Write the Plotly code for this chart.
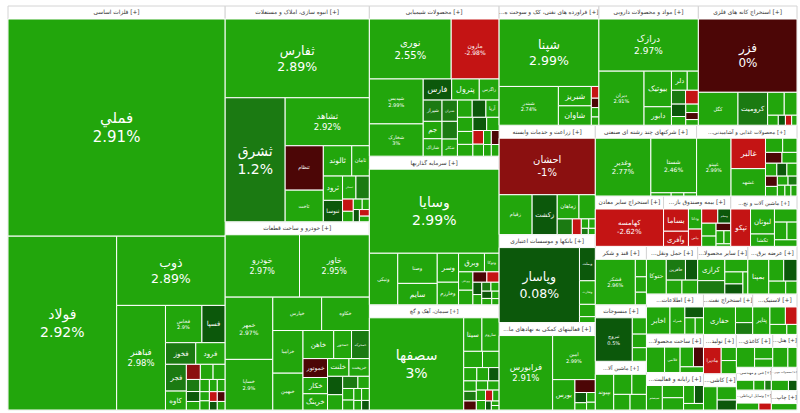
import plotly.graph_objects as go

# ---------------- sectors (header text shown on top of each group) ----------------
sector_headers = [
    "فلزات اساسی [+]", "انبوه سازی، املاک و مستغلات [+]", "خودرو و ساخت قطعات [+]",
    "محصولات شیمیایی [+]", "سرمایه گذاریها [+]", "سیمان، آهک و گچ [+]",
    "...فراورده های نفتی، کک و سوخت ه [+]", "زراعت و خدمات وابسته [+]",
    "بانکها و موسسات اعتباری [+]", "...فعالیتهای کمکی به نهادهای ما [+]",
    "مواد و محصولات دارویی [+]", "استخراج کانه های فلزی [+]", "شرکتهای چند رشته ای صنعتی [+]",
    "...محصولات غذایی و آشامیدنی [+]", "استخراج سایر معادن [+]", "...بیمه وصندوق باز [+]",
    "...ماشین آلات و تج [+]", "قند و شکر [+]", "منسوجات [+]", "...ماشین آلا [+]",
    "...حمل ونقل [+]", "...سایر محصولا [+]", "...ساخت محصولا [+]", "...عرضه برق [+]",
    "...رایانه و فعالیت [+]", "...اطلاعات [+]", "...استخراج نفت [+]", "...لاستیک [+]",
    "...تولید [+]", "...کاشی [+]", "...کاغذی [+]", "...هتل [+]", "...چاپ [+]",
    "...محصولات چوبی [+]", "...وسایل ارتباطی [+]", "...فنی و مهندسی [+]",
]

# ---------------- stocks per sector: names, values, % change ----------------
s01_names = ["فملي", "فولاد", "ذوب", "فباهنر", "فخاس", "فسپا", "فخوز", "فرود", "فجر", "کاوه", "فلوله", "هرمز",
             "فنورد", "فسرب", "فایرا", "فروی", "فزرین", "فنوال", "فسازان", "فجهان", "فاسمین", "فپنتا", "فافزا", "فغدیر", "فتوسا"]
s01_values = [4895, 1960, 780, 530, 141, 90, 68, 66, 58, 41, 22, 20, 19, 17, 14, 12, 12, 10, 10, 9, 9, 8, 8, 7, 7]
s01_change = [2.91, 2.92, 2.89, 2.98, 2.9, 0.3, 1.1, 2.7, 1.0, 2.8, -1.2, 2.6, 2.9, 1.2, 0.4, 2.5, 2.7, 2.4, 2.9, 2.6, 2.8, -2.1, -0.3, 0.2, 2.6]

s02_names = ["ثفارس", "ثشرق", "ثشاهد", "ثنظام", "ثاخت", "ثالوند", "ثامان", "ثرود", "ثنوسا", "ثمسکن", "ثباغ", "ثاصفا",
             "ثعمرا", "ثپردیس", "ثتران", "ثغرب", "ثجنوب", "ثزاگرس"]
s02_values = [1214, 795, 432, 181, 129, 92, 57, 50, 44, 33, 33, 14, 12, 10, 7, 8, 8, 6]
s02_change = [2.89, 1.2, 2.92, -0.2, 2.8, 2.7, 2.6, 2.9, 0.3, 2.5, 1.3, -2.4, 2.8, 2.6, -2.2, 2.9, 0.4, 2.7]

s03_names = ["خودرو", "خاور", "خمهر", "خساپا", "خپارس", "خکاوه", "خزامیا", "خبهمن", "خاهن", "خمحور", "خمحرکه", "خموتور",
             "خکار", "خرینگ", "خریخت", "خلنت", "خفنر", "خشرق", "خگستر", "ختوقا", "خودکفا", "خاذین", "خپویش", "خچرخش", "خعمرا", "خکمک"]
s03_values = [500, 470, 320, 260, 176, 172, 139, 120, 93, 54, 54, 50, 43, 43, 39, 41, 30, 25, 20, 15, 14, 12, 10, 10, 8, 8]
s03_change = [2.97, 2.95, 2.97, 2.9, 2.8, 2.9, 2.7, 2.8, 2.6, 2.5, 1.0, -0.4, 2.7, 2.6, 2.8, 2.6, 0.2, 2.5, 1.0, 2.6, 2.5, 2.7, 2.9, 2.4, 2.6, 0.3]

s04_names = ["نوری", "مارون", "شپدیس", "شخارک", "فارس", "پترول", "زاگرس", "شیراز", "جم", "شاراک", "شتران", "شکلر", "آریا",
             "شغدیر", "شپترو", "شکربن", "شاملا", "شسپا", "کرماشا", "شفارس", "بفجر", "شصدف", "شبهرن", "شدوص", "شیران", "شلعاب", "شجم"]
s04_values = [540, 316, 266, 191, 66, 64, 46, 44, 36, 36, 36, 29, 25, 30, 28, 26, 24, 22, 20, 20, 18, 16, 14, 12, 12, 10, 10]
s04_change = [2.55, -2.98, 2.99, 3.0, 0.2, 2.8, 2.7, 1.1, 2.6, 2.7, 1.3, 2.5, 2.8, 1.2, 2.6, 0.3, 2.7, 2.5, 2.8, 0.4, 2.6, -2.6, 2.9, 2.5, -0.3, 2.6, 2.7]

s05_names = ["وسایا", "ونیکی", "وصنا", "سایم", "وسر", "وخارزم", "وبرق", "وتوکا", "وبوعلی", "وامید", "وصنعت", "وکغدیر",
             "ولغدر", "وسکاب", "وآتوس", "وتوسم", "وسین", "وسپه", "واتی", "وسنا"]
s05_values = [1201, 161, 131, 93, 68, 53, 53, 30, 29, 23, 16, 14, 12, 10, 9, 8, 8, 7, 6, 5]
s05_change = [2.99, 2.8, 2.7, 2.9, 2.6, 2.8, 2.7, 2.5, 2.9, 2.6, -0.4, -2.5, 0.3, 2.6, 1.2, 2.7, 0.2, 2.5, 2.8, 2.6]

s06_names = ["سصفها", "سیتا", "ساروم", "سفارس", "سخوز", "سشمال", "سفار", "ستران", "سبهان", "سکرد", "سهگمت", "سدور",
             "سشرق", "سخاش", "سغرب", "سبجنو", "سقاین", "سکارون", "سیدکو", "سیلام"]
s06_values = [997, 70, 66, 35, 31, 20, 18, 16, 15, 14, 13, 12, 12, 11, 10, 9, 8, 6, 4, 4]
s06_change = [3.0, 2.8, 2.7, 2.6, 2.9, 2.7, 2.5, 0.3, 2.8, 1.1, -0.2, 2.6, 2.7, 2.5, 2.9, -2.4, 2.6, 0.2, 2.8, 2.7]

s07_names = ["شپنا", "شبندر", "شبریز", "شاوان", "شراز", "شنفت", "شسینا", "شپاس"]
s07_values = [759, 259, 72, 72, 10, 8, 8, 7]
s07_change = [2.99, 2.74, 2.6, 2.8, -2.5, -0.3, 2.6, 2.7]

s08_names = ["احشان", "زقیام", "زکشت", "زماهان", "زشریف", "زمگسا", "زبینا", "زفجر", "زگلدشت", "زشگزا", "زدشت"]
s08_values = [620, 150, 114, 60, 45, 27, 16, 8, 7, 5, 5]
s08_change = [-1.0, 2.8, 0.3, 2.7, 2.6, 1.2, -2.5, 2.7, 2.6, 1.1, 2.5]

s09_names = ["وپاسار", "وبملت", "وتجارت", "وبصادر", "وخاور"]
s09_values = [710, 62, 44, 23, 11]
s09_change = [0.08, 0.3, 2.7, 2.6, 2.8]

s10_names = ["فرابورس", "امین", "بورس", "اتکای", "آرمان", "کیان", "سحاب", "دی"]
s10_values = [470, 222, 80, 31, 14, 10, 10, 8]
s10_change = [2.91, 2.99, 2.7, -0.3, 0.2, 2.6, 2.8, 2.5]

s11_names = ["درازک", "دیران", "بیوتیک", "دابور", "دلر", "دجابر", "دالبر", "دسبحا", "دکوثر", "دتماد", "دشیمی", "دزهراوی", "دسینا"]
s11_values = [585, 275, 110, 57, 34, 24, 22, 20, 20, 14, 12, 10, 8]
s11_change = [2.97, 2.91, 2.8, 2.7, 2.6, 2.8, 1.1, -2.5, 0.2, 2.6, 2.7, -0.3, 2.5]

s12_names = ["فزر", "کگل", "کرومیت", "کگهر", "کچاد", "کمنگنز", "کاما", "کدما", "کنور"]
s12_values = [815, 147, 110, 43, 33, 12, 8, 7, 6]
s12_change = [0.0, 2.8, 1.1, 2.7, 2.6, 2.5, 0.3, -2.4, 2.6]

s13_names = ["وغدیر", "شستا", "وپترو", "ومعادن", "وبانک"]
s13_values = [395, 307, 8, 5, 5]
s13_change = [2.77, 2.46, 2.6, 2.5, 2.7]

s14_names = ["غپینو", "غالبر", "غشهد", "غگل", "غبشهر", "غمارگ", "غدشت", "غنوش", "غکورش", "غزر", "غپاک", "غسالم",
             "غشان", "غمینو", "غدیس", "غچین", "غگرجی"]
s14_values = [245, 129, 116, 30, 25, 22, 20, 18, 16, 16, 15, 14, 12, 10, 10, 8, 8]
s14_change = [2.99, -2.6, 2.7, 2.6, 2.5, -0.3, 2.8, 2.7, 0.3, 2.6, -0.2, 2.5, 2.8, 1.2, 2.7, 2.6, 2.9]

s15_names = ["کهامسه"]
s15_values = [345]
s15_change = [-2.62]

s16_names = ["بساما", "وآفری", "ودانا", "بپاس", "بالبر", "ومعلم", "بکوثر", "بپارس", "وتعاون", "بمیلا", "وحافظ", "بخاور"]
s16_values = [75, 51, 36, 31, 31, 25, 25, 20, 15, 14, 12, 5]
s16_change = [-2.6, -2.5, 2.6, -2.4, -2.7, 0.3, 2.5, 2.7, -0.3, 2.8, 2.6, 2.5]

s17_names = ["تپکو", "لبوتان", "تکشا", "کمرجان", "تمیرا", "فبستم", "تشتاد"]
s17_values = [100, 81, 40, 40, 30, 24, 20]
s17_change = [-2.6, 2.7, 2.8, 2.6, 2.5, 2.7, 2.8]

s18_names = ["قشکر", "قثابت", "قنیشا", "قلرست"]
s18_values = [235, 25, 22, 18]
s18_change = [2.96, 2.8, 2.6, 2.7]

s19_names = ["نبروج", "نطرین", "نساز", "نکالا"]
s19_values = [210, 30, 25, 25]
s19_change = [0.5, 2.6, 2.7, 2.8]

s20_names = ["بپیوند", "بترانس", "بموتو", "بشهاب", "بنیرو"]
s20_values = [90, 50, 40, 35, 35]
s20_change = [2.8, 2.7, 2.6, 2.9, 2.5]

s21_names = ["حتوکا", "حآفرین", "حکشتی", "حسینا", "حپترو"]
s21_values = [95, 55, 35, 30, 30]
s21_change = [2.7, 1.1, 0.3, 2.6, 2.8]

s22_names = ["کرازی", "کسرا", "کساوه", "کفرآور", "کچینی", "کلوند"]
s22_values = [80, 50, 40, 30, 25, 15]
s22_change = [2.7, 1.1, 2.8, 2.6, 0.3, 2.6]

s23_names = ["فنرژی", "فلامی", "فجوش", "فمراد", "فاما"]
s23_values = [70, 60, 40, 30, 20]
s23_change = [2.7, 2.8, 2.6, -0.3, 2.5]

s24_names = ["بمپنا", "بزاگرس", "تاصیکو", "بجهرم", "بکهنوج"]
s24_values = [100, 45, 40, 30, 20]
s24_change = [2.8, 2.6, 0.3, 2.7, 2.5]

s25_names = ["سیستم", "مفاخر", "رتاپ", "اپرداز", "افق", "ماهان"]
s25_values = [60, 40, 40, 30, 25, 20]
s25_change = [2.7, 2.6, 2.8, 2.5, 0.3, 2.6]

s26_names = ["اخابر", "همراه", "های وب", "اعتلا", "آپ"]
s26_values = [95, 60, 30, 25, 20]
s26_change = [2.8, 2.6, 0.2, 2.7, 2.5]

s27_names = ["حفاری", "وانفت", "شتهران"]
s27_values = [130, 40, 30]
s27_change = [2.7, 2.6, 1.2]

s28_names = ["پتایر", "پگرجی", "پدرخش", "پلاسک", "پکویر"]
s28_values = [70, 40, 30, 25, 15]
s28_change = [2.6, 2.7, -2.4, 2.8, 2.5]

s29_names = ["مادیرا", "مرقام", "لخزر"]
s29_values = [70, 30, 30]
s29_change = [-2.5, 2.6, 2.7]

s30_names = ["کسعدی", "کحافظ", "کپرور"]
s30_values = [50, 40, 30]
s30_change = [2.7, 2.6, 0.3]

s31_names = ["چکاپا", "چفیبر", "چکارن"]
s31_values = [60, 35, 25]
s31_change = [2.8, 2.6, 2.7]

s32_names = ["گکیش", "گشان"]
s32_values = [50, 30]
s32_change = [2.7, 2.5]

s33_names = ["چاپ"]
s33_values = [50]
s33_change = [2.6]

s34_names = ["چوکا", "چدشت"]
s34_values = [40, 20]
s34_change = [2.6, 0.3]

s35_names = ["تکاوه", "تلیسه"]
s35_values = [45, 25]
s35_change = [2.7, -2.3]

s36_names = ["فنی", "تکنو", "ساختمان"]
s36_values = [40, 25, 15]
s36_change = [2.8, 2.5, 1.1]

# ---------------- styles (text sizes for labelled tiles) ----------------
pct_font = {
    "فملي": 15, "فولاد": 14, "ذوب": 12.5, "فباهنر": 8.5, "فخاس": 5,
    "ثفارس": 12.5, "ثشرق": 14, "ثشاهد": 8.5,
    "خودرو": 8, "خاور": 8, "خمهر": 6, "خساپا": 5,
    "نوری": 10, "مارون": 6, "شپدیس": 5, "شخارک": 5,
    "وسایا": 14, "سصفها": 14, "شپنا": 12.5, "شبندر": 5,
    "احشان": 10, "وپاسار": 12.5, "فرابورس": 8.5, "امین": 5,
    "درازک": 9, "دیران": 5, "فزر": 12, "وغدیر": 7, "شستا": 6,
    "غپینو": 5, "کهامسه": 7, "قشکر": 5, "نبروج": 5,
}
label_font = {
    "فسپا": 7, "فخوز": 7, "فرود": 7, "کاوه": 7, "فجر": 7,
    "ثنظام": 5, "ثاخت": 5, "ثالوند": 7.5, "ثامان": 7, "ثرود": 7, "ثنوسا": 7, "ثمسکن": 6,
    "خپارس": 5, "خکاوه": 5, "خزامیا": 5, "خبهمن": 5, "خاهن": 7, "خمحور": 7, "خمحرکه": 7,
    "خموتور": 7, "خکار": 7, "خرینگ": 7, "خریخت": 7, "خلنت": 7,
    "فارس": 8, "پترول": 8, "زاگرس": 7, "شیراز": 7, "جم": 7, "شاراک": 7, "شتران": 7, "شکلر": 7, "آریا": 7,
    "ونیکی": 5, "وصنا": 5, "سایم": 7.5, "وسر": 7, "وخارزم": 7, "وبرق": 7, "وتوکا": 7, "وبوعلی": 7,
    "سیتا": 7, "ساروم": 7, "شبریز": 8, "شاوان": 8,
    "زقیام": 5, "زکشت": 8, "زماهان": 7, "وبملت": 7, "وتجارت": 7, "بورس": 7,
    "بیوتیک": 7.5, "دابور": 7, "دلر": 7, "کگل": 5, "کرومیت": 7.5,
    "غشهد": 5, "غالبر": 8, "بساما": 7.5, "وآفری": 7.5, "بپاس": 7, "ومعلم": 7, "ودانا": 7,
    "تپکو": 7, "لبوتان": 7, "تکشا": 7, "بپیوند": 7, "حتوکا": 7, "حآفرین": 7,
    "کرازی": 7, "حفاری": 7, "مادیرا": 7, "سیستم": 7, "اخابر": 7, "بمپنا": 7, "همراه": 7, "فلامی": 7, "پتایر": 7,
}


def change_color(c):
    if c >= 2.0:
        return "#22a60c"
    if c >= 0.6:
        return "#1b7a12"
    if c > 0:
        return "#0c580b"
    if c > -0.5:
        return "#4c0606"
    if c > -1.5:
        return "#8b1010"
    return "#c41414"


sector_data = [
    (s01_names, s01_values, s01_change), (s02_names, s02_values, s02_change),
    (s03_names, s03_values, s03_change), (s04_names, s04_values, s04_change),
    (s05_names, s05_values, s05_change), (s06_names, s06_values, s06_change),
    (s07_names, s07_values, s07_change), (s08_names, s08_values, s08_change),
    (s09_names, s09_values, s09_change), (s10_names, s10_values, s10_change),
    (s11_names, s11_values, s11_change), (s12_names, s12_values, s12_change),
    (s13_names, s13_values, s13_change), (s14_names, s14_values, s14_change),
    (s15_names, s15_values, s15_change), (s16_names, s16_values, s16_change),
    (s17_names, s17_values, s17_change), (s18_names, s18_values, s18_change),
    (s19_names, s19_values, s19_change), (s20_names, s20_values, s20_change),
    (s21_names, s21_values, s21_change), (s22_names, s22_values, s22_change),
    (s23_names, s23_values, s23_change), (s24_names, s24_values, s24_change),
    (s25_names, s25_values, s25_change), (s26_names, s26_values, s26_change),
    (s27_names, s27_values, s27_change), (s28_names, s28_values, s28_change),
    (s29_names, s29_values, s29_change), (s30_names, s30_values, s30_change),
    (s31_names, s31_values, s31_change), (s32_names, s32_values, s32_change),
    (s33_names, s33_values, s33_change), (s34_names, s34_values, s34_change),
    (s35_names, s35_values, s35_change), (s36_names, s36_values, s36_change),
]

ids, labels, parents, values = [], [], [], []
colors, texts, sizes, tcolors, lcolors = [], [], [], [], []

for i, hdr in enumerate(sector_headers):
    sid = f"s{i}"
    ids.append(sid); labels.append(hdr); parents.append(""); values.append(0)
    colors.append("#ffffff"); texts.append(hdr); sizes.append(7.5)
    tcolors.append("#333333"); lcolors.append("#d4d4d4")
    names, vals, chg = sector_data[i]
    for n, v, c in zip(names, vals, chg):
        ids.append(f"{sid}/{n}"); labels.append(n); parents.append(sid); values.append(v)
        colors.append(change_color(c)); tcolors.append("#ffffff"); lcolors.append("#ffffff")
        if n in pct_font:
            texts.append(f"{n}<br>{c:g}%"); sizes.append(pct_font[n])
        elif n in label_font:
            texts.append(n); sizes.append(label_font[n])
        else:
            texts.append(""); sizes.append(6)

fig = go.Figure(go.Treemap(
    ids=ids, labels=labels, parents=parents, values=values,
    branchvalues="remainder", sort=True,
    text=texts, textinfo="text", textposition="middle center",
    textfont=dict(family="DejaVu Sans", size=sizes, color=tcolors),
    marker=dict(colors=colors, line=dict(color=lcolors, width=1),
                pad=dict(t=13, l=0, r=0, b=0)),
    tiling=dict(packing="squarify", pad=0),
    pathbar=dict(visible=False),
    hoverinfo="label+value",
))
fig.update_layout(
    width=800, height=420,
    margin=dict(l=8, r=3, t=0, b=3),
    paper_bgcolor="#ffffff",
)
fig.write_html(
    "out.html",
    config={"displayModeBar": False},
    post_script="document.body.style.margin='0';document.body.style.marginTop='-7px';document.body.style.overflow='hidden';",
)
